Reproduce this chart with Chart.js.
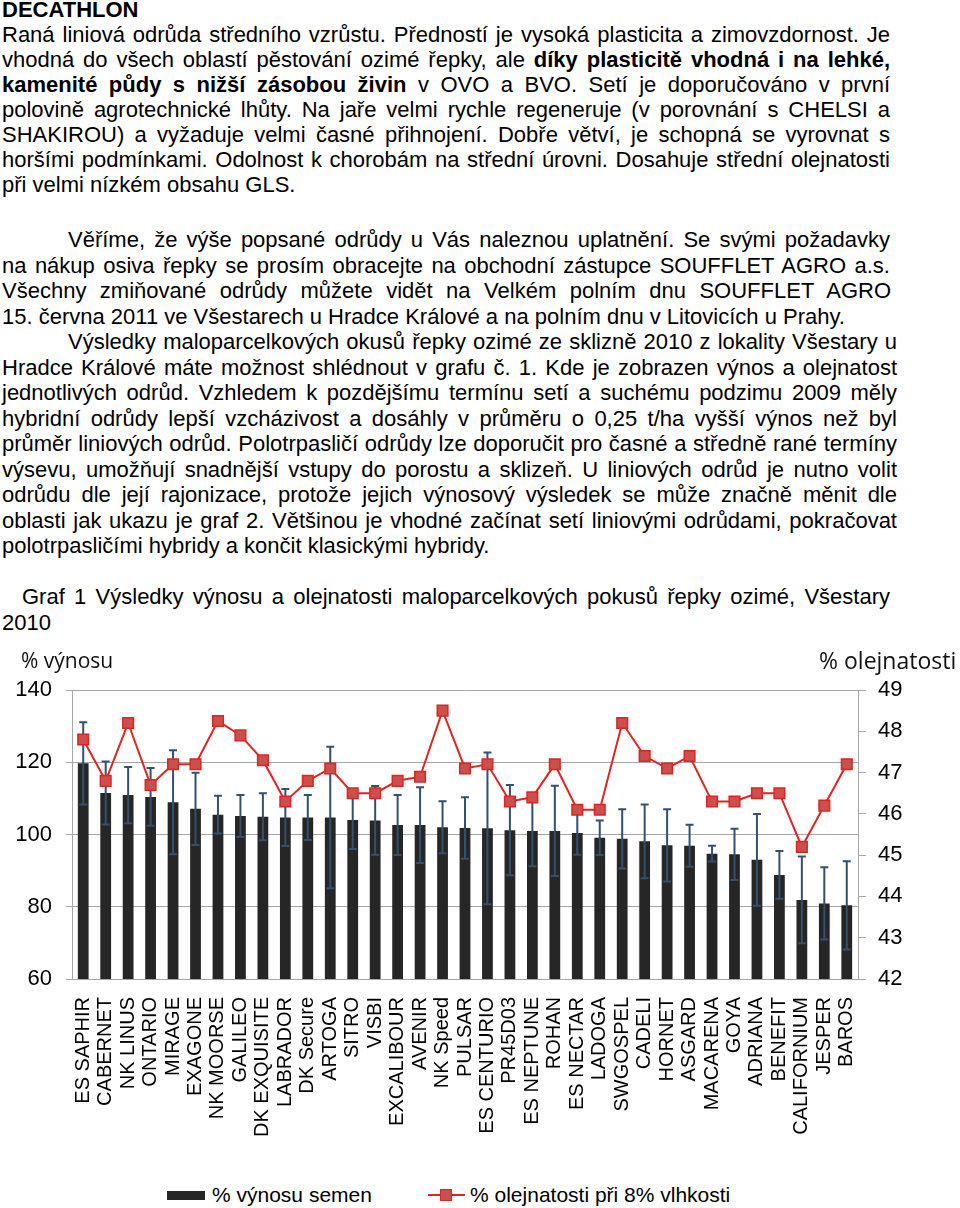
<!DOCTYPE html>
<html lang="cs">

<head>
    <meta charset="UTF-8">
    <title>Graf 1 Výsledky výnosu a olejnatosti</title>
    <script src="https://cdn.jsdelivr.net/npm/chart.js"></script>
    <style>
        body {
            margin: 0;
            width: 960px;
            height: 1208px;
            position: relative;
            overflow: hidden;
            background: #fff;
            font-family: "Liberation Sans", Arial, sans-serif;
            color: #000;
        }

        .ln {
            position: absolute;
            font-size: 22px;
            line-height: 25.5px;
            height: 25.5px;
            white-space: nowrap;
        }

        .wrapper {
            position: absolute;
            left: 0;
            top: 640px;
            width: 960px;
            height: 530px;
        }

        #legend {
            position: absolute;
            top: 1182px;
            left: 0;
            width: 960px;
            height: 26px;
            font-size: 21px;
            line-height: 26px;
        }

        #legend span {
            position: absolute;
            top: 0;
        }
    </style>
</head>

<body>
    <div id="text"></div>

    <div class="wrapper">
        <canvas id="graf"></canvas>
    </div>
    <div id="legend"></div>

    <script>
        // text of the page, one entry per printed line: [line number, left, right edge or 0, html]
        const textLines = [
            [0, 2, 0, '<b>DECATHLON</b>'],
            [1, 2, 890, 'Raná liniová odrůda středního vzrůstu. Předností je vysoká plasticita a zimovzdornost. Je'],
            [2, 2, 890, 'vhodná do všech oblastí pěstování ozimé řepky, ale <b>díky plasticitě vhodná i na lehké,</b>'],
            [3, 2, 890, '<b>kamenité půdy s nižší zásobou živin</b> v OVO a BVO. Setí je doporučováno v první'],
            [4, 2, 890, 'polovině agrotechnické lhůty. Na jaře velmi rychle regeneruje (v porovnání s CHELSI a'],
            [5, 2, 890, 'SHAKIROU) a vyžaduje velmi časné přihnojení. Dobře větví, je schopná se vyrovnat s'],
            [6, 2, 890, 'horšími podmínkami. Odolnost k chorobám na střední úrovni. Dosahuje střední olejnatosti'],
            [7, 2, 0, 'při velmi nízkém obsahu GLS.'],
            [9, 68, 890, 'Věříme, že výše popsané odrůdy u Vás naleznou uplatnění. Se svými požadavky'],
            [10, 2, 890, 'na nákup osiva řepky se prosím obracejte na obchodní zástupce SOUFFLET AGRO a.s.'],
            [11, 2, 891, 'Všechny zmiňované odrůdy můžete vidět na Velkém polním dnu SOUFFLET AGRO'],
            [12, 2, 0, '15. června 2011 ve Všestarech u Hradce Králové a na polním dnu v Litovicích u Prahy.'],
            [13, 68, 897, 'Výsledky maloparcelkových okusů řepky ozimé ze sklizně 2010 z lokality Všestary u'],
            [14, 2, 897, 'Hradce Králové máte možnost shlédnout v grafu č. 1. Kde je zobrazen výnos a olejnatost'],
            [15, 2, 897, 'jednotlivých odrůd. Vzhledem k pozdějšímu termínu setí a suchému podzimu 2009 měly'],
            [16, 2, 897, 'hybridní odrůdy lepší vzcházivost a dosáhly v průměru o 0,25 t/ha vyšší výnos než byl'],
            [17, 2, 897, 'průměr liniových odrůd. Polotrpasličí odrůdy lze doporučit pro časné a středně rané termíny'],
            [18, 2, 897, 'výsevu, umožňují snadnější vstupy do porostu a sklizeň. U liniových odrůd je nutno volit'],
            [19, 2, 897, 'odrůdu dle její rajonizace, protože jejich výnosový výsledek se může značně měnit dle'],
            [20, 2, 897, 'oblasti jak ukazu je graf 2. Většinou je vhodné začínat setí liniovými odrůdami, pokračovat'],
            [21, 2, 0, 'polotrpasličími hybridy a končit klasickými hybridy.'],
            [23, 22, 890, 'Graf 1 Výsledky výnosu a olejnatosti maloparcelkových pokusů řepky ozimé, Všestary'],
            [24, 2, 0, '2010'],
        ];

        const categories = [
            'ES SAPHIR', 'CABERNET', 'NK LINUS', 'ONTARIO', 'MIRAGE', 'EXAGONE', 'NK MOORSE',
            'GALILEO', 'DK EXQUISITE', 'LABRADOR', 'DK Secure', 'ARTOGA', 'SITRO', 'VISBI',
            'EXCALIBOUR', 'AVENIR', 'NK Speed', 'PULSAR', 'ES CENTURIO', 'PR45D03', 'ES NEPTUNE',
            'ROHAN', 'ES NECTAR', 'LADOGA', 'SWGOSPEL', 'CADELI', 'HORNET', 'ASGARD', 'MACARENA',
            'GOYA', 'ADRIANA', 'BENEFIT', 'CALIFORNIUM', 'JESPER', 'BAROS'
        ];

        // % výnosu semen
        const yieldValues = [
            119.7, 111.5, 110.9, 110.4, 108.9, 107.1, 105.5, 105.1, 104.9, 104.7, 104.7, 104.7,
            104.0, 103.9, 102.6, 102.6, 102.0, 101.8, 101.7, 101.2, 101.0, 101.0, 100.4, 99.1,
            98.8, 98.1, 97.0, 96.9, 94.7, 94.5, 93.0, 88.8, 81.9, 80.9, 80.4
        ];

        // +/- error of % výnosu
        const yieldErrors = [
            11.4, 8.7, 7.8, 8.0, 14.4, 10.0, 5.2, 5.8, 6.5, 7.9, 6.2, 19.6,
            8.0, 9.5, 8.3, 10.5, 7.2, 8.5, 21.0, 12.5, 9.8, 12.5, 6.0, 4.8,
            8.2, 10.2, 10.0, 5.8, 2.2, 7.1, 12.7, 6.6, 12.0, 10.0, 12.2
        ];

        // % olejnatosti při 8% vlhkosti
        const oilValues = [
            47.8, 46.8, 48.2, 46.7, 47.2, 47.2, 48.25, 47.9, 47.3, 46.3, 46.8, 47.1,
            46.5, 46.5, 46.8, 46.9, 48.5, 47.1, 47.2, 46.3, 46.4, 47.2, 46.1, 46.1,
            48.2, 47.4, 47.1, 47.4, 46.3, 46.3, 46.5, 46.5, 45.2, 46.2, 47.2
        ];

        const seriesLabels = ['% výnosu semen', '% olejnatosti při 8% vlhkosti'];
        const axisTitles = ['% výnosu', '% olejnatosti'];

        const barColor = '#262626';
        const errColor = '#34506f';
        const lineColor = '#e2231f';
        const markerColor = '#c9504c';
        const gridColor = '#a6a6a6';

        // page text, justified line by line
        const textBox = document.getElementById('text');
        textLines.forEach(([n, left, right, html]) => {
            const d = document.createElement('div');
            d.className = 'ln';
            d.style.left = left + 'px';
            const mid = n <= 7 ? 10 + 25 * n : 240 + 25.5 * (n - 9);
            d.style.top = (mid - 12.75) + 'px';
            d.innerHTML = html;
            textBox.appendChild(d);
            if (right) {
                const spaces = (d.textContent.match(/ /g) || []).length;
                const natural = d.getBoundingClientRect().width;
                d.style.wordSpacing = ((right - left - natural) / spaces) + 'px';
            }
        });

        // legend
        const legend = document.getElementById('legend');
        legend.innerHTML =
            '<span style="left:167px;top:9px;width:38px;height:9px;background:' + barColor + '"></span>' +
            '<span style="left:212px">' + seriesLabels[0] + '</span>' +
            '<span style="left:428px;top:12px;width:37px;height:2px;background:' + lineColor + '"></span>' +
            '<span style="left:440px;top:7px;width:10px;height:10px;background:' + markerColor +
            ';border:1px solid ' + lineColor + '"></span>' +
            '<span style="left:470px">' + seriesLabels[1] + '</span>';

        const errorBars = {
            id: 'errorBars',
            afterDatasetDraw(chart, args) {
                if (args.index !== 0) return;
                const ctx = chart.ctx;
                const y = chart.scales.y;
                ctx.save();
                ctx.strokeStyle = errColor;
                ctx.lineWidth = 2;
                args.meta.data.forEach((bar, i) => {
                    const top = y.getPixelForValue(yieldValues[i] + yieldErrors[i]);
                    const bot = y.getPixelForValue(yieldValues[i] - yieldErrors[i]);
                    ctx.beginPath();
                    ctx.moveTo(bar.x, top);
                    ctx.lineTo(bar.x, bot);
                    ctx.moveTo(bar.x - 4, top);
                    ctx.lineTo(bar.x + 4, top);
                    ctx.moveTo(bar.x - 4, bot);
                    ctx.lineTo(bar.x + 4, bot);
                    ctx.stroke();
                });
                ctx.restore();
            }
        };

        const titles = {
            id: 'titles',
            afterDraw(chart) {
                const ctx = chart.ctx;
                ctx.save();
                ctx.fillStyle = '#111';
                ctx.textBaseline = 'middle';
                ctx.font = '21px "Open Sans"';
                ctx.fillText(axisTitles[0], 21, 22);
                ctx.font = '23px "Open Sans"';
                ctx.fillText(axisTitles[1], 819, 22);
                ctx.restore();
            }
        };

        const ctx = document.getElementById('graf').getContext('2d');
        new Chart(ctx, {
            data: {
                labels: categories,
                datasets: [{
                    type: 'bar',
                    label: seriesLabels[0],
                    data: yieldValues,
                    yAxisID: 'y',
                    backgroundColor: barColor,
                    barPercentage: 0.48,
                    categoryPercentage: 1,
                    order: 2
                }, {
                    type: 'line',
                    label: seriesLabels[1],
                    data: oilValues,
                    yAxisID: 'y1',
                    borderColor: lineColor,
                    borderWidth: 2,
                    pointStyle: 'rect',
                    pointRadius: 7.5,
                    pointBackgroundColor: markerColor,
                    pointBorderColor: lineColor,
                    pointBorderWidth: 1.5,
                    tension: 0,
                    order: 1
                }]
            },
            options: {
                responsive: true,
                maintainAspectRatio: false,
                animation: false,
                layout: { padding: { top: 50, left: 0, right: 0, bottom: 0 } },
                plugins: {
                    legend: { display: false },
                    tooltip: { enabled: false }
                },
                scales: {
                    x: {
                        grid: { display: false },
                        border: { display: false },
                        afterFit: (s) => { s.height = 191; },
                        ticks: {
                            autoSkip: false,
                            minRotation: 90,
                            maxRotation: 90,
                            padding: 10,
                            color: '#000',
                            font: { family: 'Liberation Sans', size: 20 }
                        }
                    },
                    y: {
                        position: 'left',
                        min: 60,
                        max: 140,
                        afterFit: (s) => { s.width = 72; },
                        grid: { color: gridColor, tickLength: 6 },
                        border: { color: gridColor },
                        ticks: {
                            stepSize: 20,
                            padding: 14,
                            color: '#000',
                            font: { family: 'Liberation Sans', size: 22 }
                        }
                    },
                    y1: {
                        position: 'right',
                        min: 42,
                        max: 49,
                        afterFit: (s) => { s.width = 102; },
                        grid: { drawOnChartArea: false, color: gridColor, tickLength: 8 },
                        border: { color: gridColor },
                        ticks: {
                            stepSize: 1,
                            padding: 12,
                            color: '#000',
                            font: { family: 'Liberation Sans', size: 22 }
                        }
                    }
                }
            },
            plugins: [errorBars, titles]
        });
    </script>
</body>

</html>
